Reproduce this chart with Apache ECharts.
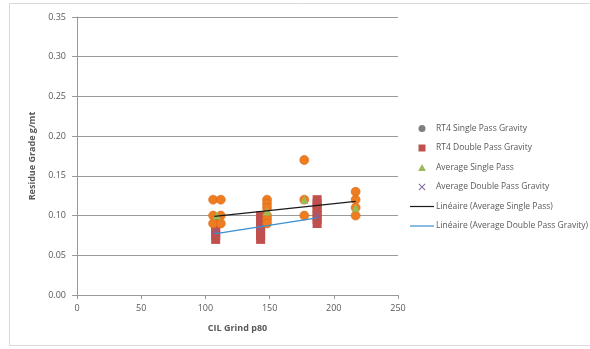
<!DOCTYPE html>
<html>
<head>
<meta charset="utf-8">
<script src="https://cdn.jsdelivr.net/npm/echarts@6/dist/echarts.min.js"></script>
<style>
  html, body { margin: 0; padding: 0; background: #fff; }
  #chart { width: 590px; height: 349px; }
</style>
</head>
<body>
<div id="chart"></div>
<script>
// ---- data ----
const seriesNames = [
  'RT4 Single Pass Gravity',
  'RT4 Double Pass Gravity',
  'Average Single Pass',
  'Average Double Pass Gravity',
  'Linéaire (Average Single Pass)',
  'Linéaire (Average Double Pass Gravity)'
];
const rt4SinglePass = [
  [106, 0.12], [112, 0.12], [106, 0.10], [112, 0.10], [106, 0.09], [112, 0.09],
  [148, 0.12], [148, 0.115], [148, 0.11], [148, 0.10], [148, 0.095], [148, 0.09],
  [177, 0.17], [177, 0.12], [177, 0.10],
  [217, 0.13], [217, 0.12], [217, 0.11], [217, 0.10]
];
const rt4DoublePass = [
  [108, 0.07], [108, 0.075], [108, 0.08], [108, 0.085], [108, 0.09], [108, 0.095],
  [143, 0.07], [143, 0.075], [143, 0.08], [143, 0.085], [143, 0.09], [143, 0.095], [143, 0.10],
  [187, 0.09], [187, 0.095], [187, 0.10], [187, 0.105], [187, 0.11], [187, 0.115], [187, 0.12]
];
const avgSinglePass = [[109, 0.10], [148, 0.105], [177, 0.12], [217, 0.11]];
const avgDoublePass = [[108, 0.08], [143, 0.085], [187, 0.10]];
const trendSingle = [[107, 0.099], [217, 0.118]];
const trendDouble = [[107, 0.077], [187, 0.097]];
const xTicks = { min: 0, max: 250, interval: 50 };
const yTicks = { min: 0, max: 0.35, interval: 0.05 };

const FONT = '"Open Sans", "Liberation Sans", sans-serif';
const TXT = '#595959';
const AX = '#9a9a9a';
const crossPath = 'path://M0,1 L1,0 L5,4 L9,0 L10,1 L6,5 L10,9 L9,10 L5,6 L1,10 L0,9 L4,5 Z';
const squarePath = 'path://M0,0 L10,0 L10,10 L0,10 Z';
const trianglePath = 'path://M5,0 L10,9 L0,9 Z';
const linePath = 'path://M0,0 L60,0 L60,3 L0,3 Z';

const chart = echarts.init(document.getElementById('chart'), null, { renderer: 'canvas' });
chart.setOption({
  animation: false,
  backgroundColor: '#fff',
  textStyle: { fontFamily: FONT },
  graphic: [{
    type: 'rect', silent: true, z: -10,
    shape: { x: 9.5, y: 3.5, width: 600, height: 342 },
    style: { fill: 'none', stroke: '#d9d9d9', lineWidth: 1 }
  }],
  grid: { left: 77, top: 17, right: 192, bottom: 54, containLabel: false },
  legend: {
    orient: 'vertical', left: 405, top: 118,
    itemWidth: 24, itemHeight: 7, itemGap: 8.5,
    symbolKeepAspect: true,
    textStyle: { fontFamily: FONT, fontSize: 8.5, color: TXT, lineHeight: 11, padding: [0, 0, 0, -3] },
    data: [
      { name: seriesNames[0], icon: 'circle', itemStyle: { color: '#7f7f7f', borderWidth: 0 } },
      { name: seriesNames[1], icon: squarePath },
      { name: seriesNames[2], icon: trianglePath },
      { name: seriesNames[3], icon: crossPath },
      { name: seriesNames[4], icon: linePath },
      { name: seriesNames[5], icon: linePath }
    ]
  },
  xAxis: {
    type: 'value', min: xTicks.min, max: xTicks.max, interval: xTicks.interval,
    name: 'CIL Grind p80', nameLocation: 'middle', nameGap: 29,
    nameTextStyle: { fontFamily: FONT, fontSize: 9, fontWeight: 'bold', color: TXT },
    axisLine: { show: true, onZero: false, lineStyle: { color: AX, width: 1 } },
    axisTick: { show: true, length: 4, lineStyle: { color: AX } },
    axisLabel: { fontFamily: FONT, fontSize: 9, color: TXT, margin: 9 },
    splitLine: { show: false }
  },
  yAxis: {
    type: 'value', min: yTicks.min, max: yTicks.max, interval: yTicks.interval,
    name: 'Residue Grade g/mt', nameLocation: 'middle', nameGap: 40,
    nameTextStyle: { fontFamily: FONT, fontSize: 9, fontWeight: 'bold', color: TXT },
    axisLine: { show: true, lineStyle: { color: AX, width: 1 } },
    axisTick: { show: true, length: 5, lineStyle: { color: AX } },
    axisLabel: { fontFamily: FONT, fontSize: 9, color: TXT, margin: 11,
      formatter: v => v.toFixed(2) },
    splitLine: { show: true, lineStyle: { color: AX, width: 1 } }
  },
  series: [
    {
      name: seriesNames[0], type: 'scatter', data: rt4SinglePass, z: 3,
      symbol: 'circle', symbolSize: 9,
      itemStyle: { color: '#ee7d22', borderColor: '#d86a18', borderWidth: 0.6, opacity: 1 }
    },
    {
      name: seriesNames[1], type: 'scatter', data: rt4DoublePass, z: 2,
      symbol: 'rect', symbolSize: 9,
      itemStyle: { color: '#c0504d', opacity: 1 }
    },
    {
      name: seriesNames[2], type: 'scatter', data: avgSinglePass, z: 4,
      symbol: 'triangle', symbolSize: 8,
      itemStyle: { color: '#9bbb59', opacity: 1 }
    },
    {
      name: seriesNames[3], type: 'scatter', data: avgDoublePass, z: 5,
      symbol: crossPath, symbolSize: 6,
      itemStyle: { color: '#8064a2', opacity: 1 }
    },
    {
      name: seriesNames[4], type: 'line', data: trendSingle, z: 6,
      symbol: 'none', showSymbol: false,
      lineStyle: { color: '#1a1a1a', width: 1.3 }, itemStyle: { color: '#1a1a1a' }
    },
    {
      name: seriesNames[5], type: 'line', data: trendDouble, z: 6,
      symbol: 'none', showSymbol: false,
      lineStyle: { color: '#3b8fd0', width: 1.3 }, itemStyle: { color: '#3b8fd0' }
    }
  ]
});
</script>
</body>
</html>
